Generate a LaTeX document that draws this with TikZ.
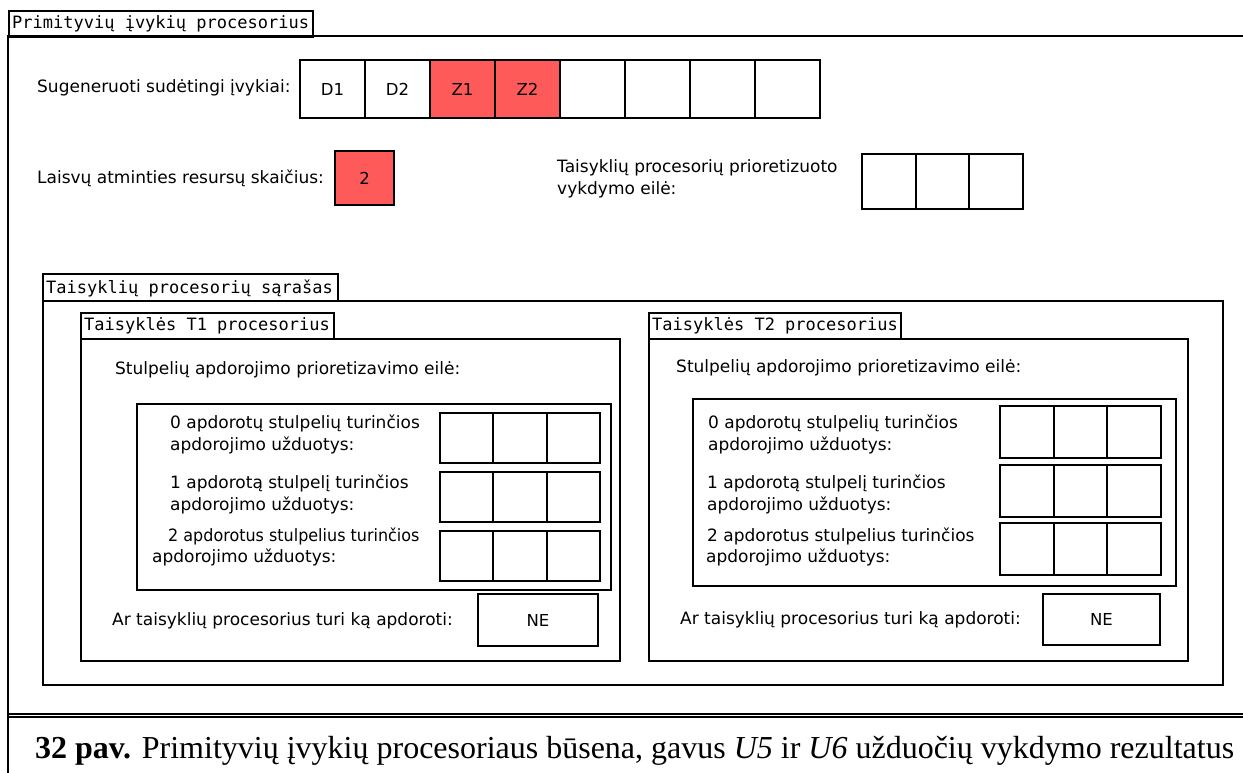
\documentclass[tikz,border=0pt]{standalone}
\usepackage{fontspec}
\setmainfont{Liberation Serif}
\setsansfont{DejaVu Sans}
\setmonofont{DejaVu Sans Mono}
\definecolor{busy}{RGB}{255,90,90}
\tikzset{
  x=1pt, y=-1pt,
  frameline/.style={line width=2pt, line cap=rect},
  tab/.style={draw, line width=2pt, inner sep=0pt, anchor=north west},
  cell/.style={draw, line width=2pt, inner sep=0pt, font=\sffamily\fontsize{16.5}{19}\selectfont},
  busycell/.style={cell, fill=busy},
  lbl/.style={inner sep=0pt, anchor=west, align=left, font=\sffamily\fontsize{17}{22}\selectfont},
  tabtext/.style={inner sep=0pt, anchor=west, font=\ttfamily\fontsize{17}{20}\selectfont},
}
\begin{document}
\begin{tikzpicture}
\useasboundingbox[fill=white] (0,0) rectangle (1243,773);

% main frame with its title tab
\node[tab, minimum width=304pt, minimum height=26pt] (maintab) at (8,10) {};
\node[tabtext] (maintitle) at (12,23.5) {Primityvių įvykių procesorius};
\coordinate (ftl) at (8,36);
\coordinate (ftr) at (1243,36);
\coordinate (fbl) at (8,714);
\coordinate (fbr) at (1243,714);
\coordinate (cbl) at (8,773);
\coordinate (ctl) at (8,717);
\coordinate (ctr) at (1243,717);
\draw[frameline] (ftr) -- (ftl) -- (fbl) -- (fbr);
\draw[line width=1.5pt] (ctl) -- (ctr);
\draw[frameline] (fbl) -- (cbl);

% generated complex events
\node[lbl] (genlbl) at (37,88) {Sugeneruoti sudėtingi įvykiai:};
\foreach \i/\t/\s in {0/D1/cell,1/D2/cell,2/Z1/busycell,3/Z2/busycell,4//cell,5//cell,6//cell,7//cell}{
  \node[\s, minimum width=65pt, minimum height=58pt] (ev\i) at ({332.5+65*\i},89) {\t};
}

% free memory resources
\node[lbl] (memlbl) at (37,178) {Laisvų atminties resursų skaičius:};
\node[busycell, minimum width=59pt, minimum height=54pt] (mem) at (364.5,178) {2};

% prioritised execution queue
\node[lbl] (queuelbl) at (557,179) {Taisyklių procesorių prioretizuoto\\vykdymo eilė:};
\foreach \i in {0,1,2}{
  \node[cell, minimum width=53.7pt, minimum height=55pt] (q\i) at ({888.8+53.7*\i},181.5) {};
}

% list of rule processors
\node[tab, minimum width=295pt, minimum height=27pt] (listtab) at (42,273) {};
\node[tabtext] (listtitle) at (46,288) {Taisyklių procesorių sąrašas};
\node[tab, minimum width=1180pt, minimum height=384pt] (listbox) at (42,300) {};

% rule processor T1
\node[tab, minimum width=253pt, minimum height=26pt] (tatab) at (80,312) {};
\node[tabtext] (tatitle) at (84,326) {Taisyklės T1 procesorius};
\node[tab, minimum width=539pt, minimum height=322pt] (tabox) at (80,338) {};
\node[lbl] (taprio) at (115,370) {Stulpelių apdorojimo prioretizavimo eilė:};
\node[tab, minimum width=474pt, minimum height=186pt] (tainner) at (136,403) {};
\node[lbl] (tar0a) at (170,423) {0 apdorotų stulpelių turinčios};
\node[lbl] (tar0b) at (170,445) {apdorojimo užduotys:};
\node[lbl] (tar1a) at (170,483) {1 apdorotą stulpelį turinčios};
\node[lbl] (tar1b) at (170,505) {apdorojimo užduotys:};
\node[lbl] (tar2a) at (168,536) {\addfontfeatures{FakeStretch=0.94}2 apdorotus stulpelius turinčios};
\node[lbl] (tar2b) at (152,557) {apdorojimo užduotys:};
\foreach \r/\y in {0/438,1/496.5,2/555.5}{
  \foreach \c in {0,1,2}{
    \node[cell, minimum width=53.3pt, minimum height=50pt] (ta\r\c) at ({466.7+53.3*\c},\y) {};
  }
}
\node[lbl] (taask) at (112,621) {Ar taisyklių procesorius turi ką apdoroti:};
\node[cell, minimum width=120pt, minimum height=52pt] (tane) at (538,620) {NE};

% rule processor T2
\node[tab, minimum width=252pt, minimum height=26pt] (tbtab) at (648,312) {};
\node[tabtext] (tbtitle) at (652,326) {Taisyklės T2 procesorius};
\node[tab, minimum width=539pt, minimum height=322pt] (tbbox) at (648,338) {};
\node[lbl] (tbprio) at (676,368) {Stulpelių apdorojimo prioretizavimo eilė:};
\node[tab, minimum width=483pt, minimum height=187pt] (tbinner) at (692,398) {};
\node[lbl] (tbr0a) at (708,423) {0 apdorotų stulpelių turinčios};
\node[lbl] (tbr0b) at (708,445) {apdorojimo užduotys:};
\node[lbl] (tbr1a) at (707,483) {1 apdorotą stulpelį turinčios};
\node[lbl] (tbr1b) at (707,505) {apdorojimo užduotys:};
\node[lbl] (tbr2a) at (707,536) {2 apdorotus stulpelius turinčios};
\node[lbl] (tbr2b) at (706,557) {apdorojimo užduotys:};
\foreach \r/\y in {0/432,1/491,2/549}{
  \foreach \c in {0,1,2}{
    \node[cell, minimum width=53.7pt, minimum height=52pt] (tb\r\c) at ({1026.8+53.7*\c},\y) {};
  }
}
\node[lbl] (tbask) at (680,620) {Ar taisyklių procesorius turi ką apdoroti:};
\node[cell, minimum width=117pt, minimum height=51pt] (tbne) at (1101.5,619.5) {NE};

% caption
\node[inner sep=0pt, anchor=base west, font=\rmfamily\fontsize{32}{36}\selectfont] (caption) at (35,758)
  {\textbf{32 pav.} Primityvių įvykių procesoriaus būsena, gavus \textit{U5} ir \textit{U6} užduočių vykdymo rezultatus};
\end{tikzpicture}
\end{document}
